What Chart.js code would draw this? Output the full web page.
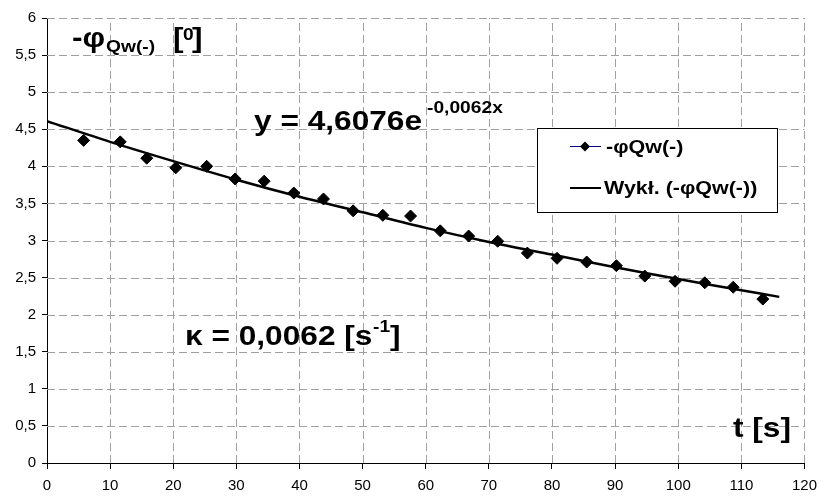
<!DOCTYPE html>
<html><head><meta charset="utf-8">
<script src="https://cdn.jsdelivr.net/npm/chart.js@4.4.0/dist/chart.umd.min.js"></script>
<style>html,body{margin:0;padding:0;background:#fff}#wrap{width:825px;height:500px;position:relative}</style>
</head><body><div id="wrap"><canvas id="c" width="825" height="500"></canvas></div>
<script>
const tValues = [5.8, 11.6, 15.8, 20.4, 25.3, 29.8, 34.4, 39.1, 43.8, 48.5, 53.2, 57.6, 62.3, 66.8, 71.4, 76.1, 80.8, 85.5, 90.2, 94.7, 99.5, 104.2, 108.7, 113.4];
const phiValues = [4.35, 4.33, 4.11, 3.98, 4.00, 3.83, 3.80, 3.64, 3.56, 3.40, 3.34, 3.33, 3.13, 3.06, 2.99, 2.83, 2.76, 2.71, 2.66, 2.52, 2.45, 2.43, 2.37, 2.21];
const trendT = [0, 10, 20, 30, 40, 50, 60, 70, 80, 90, 100, 110, 116];
const trendPhi = [4.61, 4.33, 4.07, 3.82, 3.59, 3.38, 3.17, 2.98, 2.81, 2.64, 2.48, 2.33, 2.24];
const seriesNames = ['-φQw(-)', 'Wykł. (-φQw(-))'];

const FONT = '"Liberation Sans", Arial, sans-serif';
const SX = 1.13;
function txt(ctx, t, x, y, size, base){
  ctx.save();
  ctx.font = 'bold ' + size + 'px ' + FONT;
  ctx.fillStyle = '#000';
  ctx.textBaseline = base || 'alphabetic';
  ctx.textAlign = 'left';
  ctx.translate(x, y);
  ctx.scale(SX, 1);
  ctx.fillText(t, 0, 0);
  ctx.restore();
}
const dashedGrid = {
  id: 'dashedGrid',
  beforeDatasetsDraw(chart){
    const ctx = chart.ctx, a = chart.chartArea;
    const xs = chart.scales.x, ys = chart.scales.y;
    ctx.save();
    ctx.strokeStyle = '#a0a0a0'; ctx.lineWidth = 1; ctx.setLineDash([8,4]);
    xs.ticks.forEach(t => { if (t.value === xs.min) return;
      const px = Math.round(xs.getPixelForValue(t.value)) + 0.5;
      ctx.beginPath(); ctx.moveTo(px, a.bottom); ctx.lineTo(px, a.top); ctx.stroke(); });
    ys.ticks.forEach(t => { if (t.value === ys.min) return;
      const py = Math.round(ys.getPixelForValue(t.value)) + 0.5;
      ctx.beginPath(); ctx.moveTo(a.left, py); ctx.lineTo(a.right, py); ctx.stroke(); });
    ctx.restore();
  }
};
const overlay = {
  id: 'overlay',
  afterDraw(chart){
    const ctx = chart.ctx;
    ctx.save();
    txt(ctx, '-φ', 72, 47, 28);
    txt(ctx, 'Qw(-)', 106, 52, 17);
    txt(ctx, '[', 173, 47, 28);
    txt(ctx, '0', 183, 40, 17);
    txt(ctx, ']', 192, 47, 28);
    txt(ctx, 'y = 4,6076e', 254, 130, 28);
    txt(ctx, '-0,0062x', 427, 113, 17);
    txt(ctx, 'κ = 0,0062 [s', 185, 345, 28);
    txt(ctx, '-1', 373, 332, 17);
    txt(ctx, ']', 390, 345, 28);
    txt(ctx, 't [s]', 733, 437, 28);
    ctx.fillStyle = '#fff'; ctx.strokeStyle = '#000'; ctx.lineWidth = 1;
    ctx.fillRect(537.5, 128.5, 240, 84); ctx.strokeRect(537.5, 128.5, 240, 84);
    ctx.strokeStyle = '#000080'; ctx.lineWidth = 1;
    ctx.beginPath(); ctx.moveTo(570, 146.5); ctx.lineTo(601, 146.5); ctx.stroke();
    ctx.fillStyle = '#000';
    ctx.beginPath(); ctx.moveTo(585, 141.5); ctx.lineTo(590, 146.5); ctx.lineTo(585, 151.5); ctx.lineTo(580, 146.5); ctx.closePath(); ctx.fill();
    ctx.strokeStyle = '#000'; ctx.lineWidth = 2;
    ctx.beginPath(); ctx.moveTo(570, 188); ctx.lineTo(601, 188); ctx.stroke();
    txt(ctx, seriesNames[0], 606, 148, 19, 'middle');
    txt(ctx, seriesNames[1], 604, 189, 19, 'middle');
    ctx.restore();
  }
};

new Chart(document.getElementById('c'), {
  type: 'scatter',
  data: {
    datasets: [
      { label: seriesNames[1], data: trendT.map((t,i)=>({x:t,y:trendPhi[i]})), showLine: true, borderColor:'#000', borderWidth:2.5, pointRadius:0, fill:false, tension:0.3, order:2 },
      { label: seriesNames[0], data: tValues.map((t,i)=>({x:t,y:phiValues[i]})), showLine:false, pointStyle:'rectRot', pointRadius:6, backgroundColor:'#000', borderColor:'#000', order:1 }
    ]
  },
  options: {
    responsive:false, animation:false,
    layout:{padding:{top:18,right:13,left:0,bottom:0}},
    plugins:{legend:{display:false}, tooltip:{enabled:false}},
    scales:{
      x:{type:'linear', min:0, max:120,
        ticks:{stepSize:10, color:'#000', font:{family:FONT, size:15}, padding:8, maxRotation:0},
        grid:{color:'rgba(0,0,0,0)', drawTicks:true, tickLength:6, tickColor:'#000', tickWidth:1},
        border:{display:true, color:'#000', width:1},
        afterFit(s){ s.height = 37; }
      },
      y:{min:0, max:6,
        ticks:{stepSize:0.5, color:'#000', font:{family:FONT, size:15}, padding:6, callback:v=>String(v).replace('.',',')},
        grid:{color:'rgba(0,0,0,0)', drawTicks:true, tickLength:5, tickColor:'#000', tickWidth:1},
        border:{display:true, color:'#000', width:1},
        afterFit(s){ s.width = 47; }
      }
    }
  },
  plugins:[dashedGrid, overlay]
});
</script></body></html>
